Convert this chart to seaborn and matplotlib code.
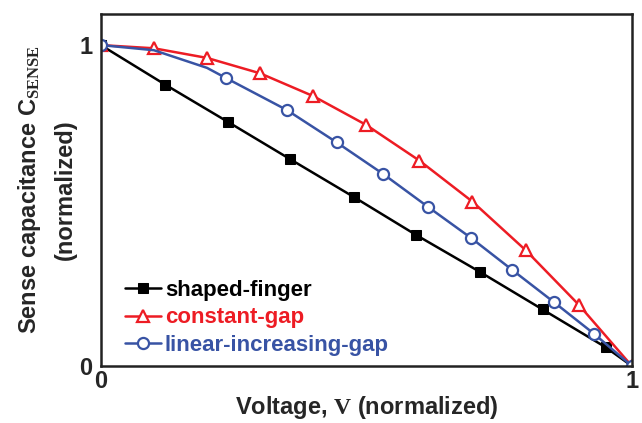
import matplotlib
matplotlib.use('Agg')
import matplotlib.pyplot as plt
import seaborn as sns
import numpy as np

# data (normalized voltage vs normalized capacitance)
finger_x = [0.0, 0.121, 0.239, 0.357, 0.476, 0.594, 0.714, 0.832, 0.951, 1.0]
finger_y = [1.0, 0.877, 0.761, 0.644, 0.527, 0.408, 0.293, 0.176, 0.058, 0.0]

const_x = [0.0, 0.1, 0.2, 0.3, 0.4, 0.5, 0.6, 0.7, 0.8, 0.9, 1.0]
const_y = [1.0, 0.99, 0.96, 0.912, 0.841, 0.751, 0.640, 0.512, 0.361, 0.191, 0.0]

# linear-increasing-gap: markers every 0.1 in C, line read a bit denser near V=0
lin_x = [0.0, 0.1, 0.2, 0.235, 0.350, 0.444, 0.532, 0.616, 0.698, 0.775, 0.854, 0.929, 1.0]
lin_y = [1.0, 0.984, 0.929, 0.898, 0.798, 0.697, 0.598, 0.496, 0.398, 0.299, 0.198, 0.100, 0.0]
lin_marks = [0, 3, 4, 5, 6, 7, 8, 9, 10, 11, 12]

names = ['shaped-finger', 'constant-gap', 'linear-increasing-gap']
colors = ['black', '#ED1C24', '#3853A4']

sns.set_style('white')
plt.rcParams['font.family'] = ['Liberation Sans', 'DejaVu Sans']
plt.rcParams['font.weight'] = 'bold'
plt.rcParams['mathtext.fontset'] = 'custom'
plt.rcParams['mathtext.rm'] = 'Liberation Serif:bold'
plt.rcParams['mathtext.it'] = 'Liberation Serif:bold'
plt.rcParams['mathtext.bf'] = 'Liberation Serif:bold'

fig = plt.figure(figsize=(6.42, 4.23), dpi=100)
ax = fig.add_axes([0.157, 0.135, 0.827, 0.832])

sns.lineplot(x=finger_x, y=finger_y, ax=ax, color=colors[0], lw=1.8,
             marker='s', markersize=7, markerfacecolor=colors[0],
             markeredgecolor=colors[0], label=names[0])
sns.lineplot(x=const_x, y=const_y, ax=ax, color=colors[1], lw=1.8,
             marker='^', markersize=9, markerfacecolor='white',
             markeredgecolor=colors[1], markeredgewidth=1.6, label=names[1])
sns.lineplot(x=lin_x, y=lin_y, ax=ax, color=colors[2], lw=1.8,
             marker='o', markersize=8, markerfacecolor='white',
             markeredgecolor=colors[2], markeredgewidth=1.6,
             markevery=lin_marks, label=names[2])

ax.set_xlim(0, 1)
ax.set_ylim(0, 1.097)
ax.set_xticks([0, 1])
ax.set_yticks([0, 1])
ax.set_xticks([0.5], minor=True)
ax.set_yticks([0.5], minor=True)
ax.set_xticklabels(['0', '1'], fontsize=17, fontweight='bold')
ax.set_yticklabels(['0', '1'], fontsize=17, fontweight='bold')
ax.tick_params(which='both', direction='in', length=4, width=1.2)
ax.tick_params(which='major', length=0)
ax.tick_params(axis='y', which='major', pad=6)
ax.tick_params(axis='x', which='major', pad=3)
for s in ax.spines.values():
    s.set_linewidth(1.8)
    s.set_color('#222222')

ax.set_xlabel('Voltage, $\\mathrm{V}$ (normalized)', fontsize=17, fontweight='bold', labelpad=1)
ax.set_ylabel('Sense capacitance C$_{\\mathrm{SENSE}}$\n(normalized)', fontsize=17,
              fontweight='bold', labelpad=2, linespacing=1.6)

leg = ax.legend(loc='lower left', bbox_to_anchor=(0.02, -0.01), frameon=False,
                prop={'size': 16, 'weight': 'bold'}, handlelength=1.65,
                handletextpad=0.15, labelspacing=0.3, borderaxespad=0.2)
for t, c in zip(leg.get_texts(), colors):
    t.set_color(c)

fig.savefig('out.png', dpi=100)
